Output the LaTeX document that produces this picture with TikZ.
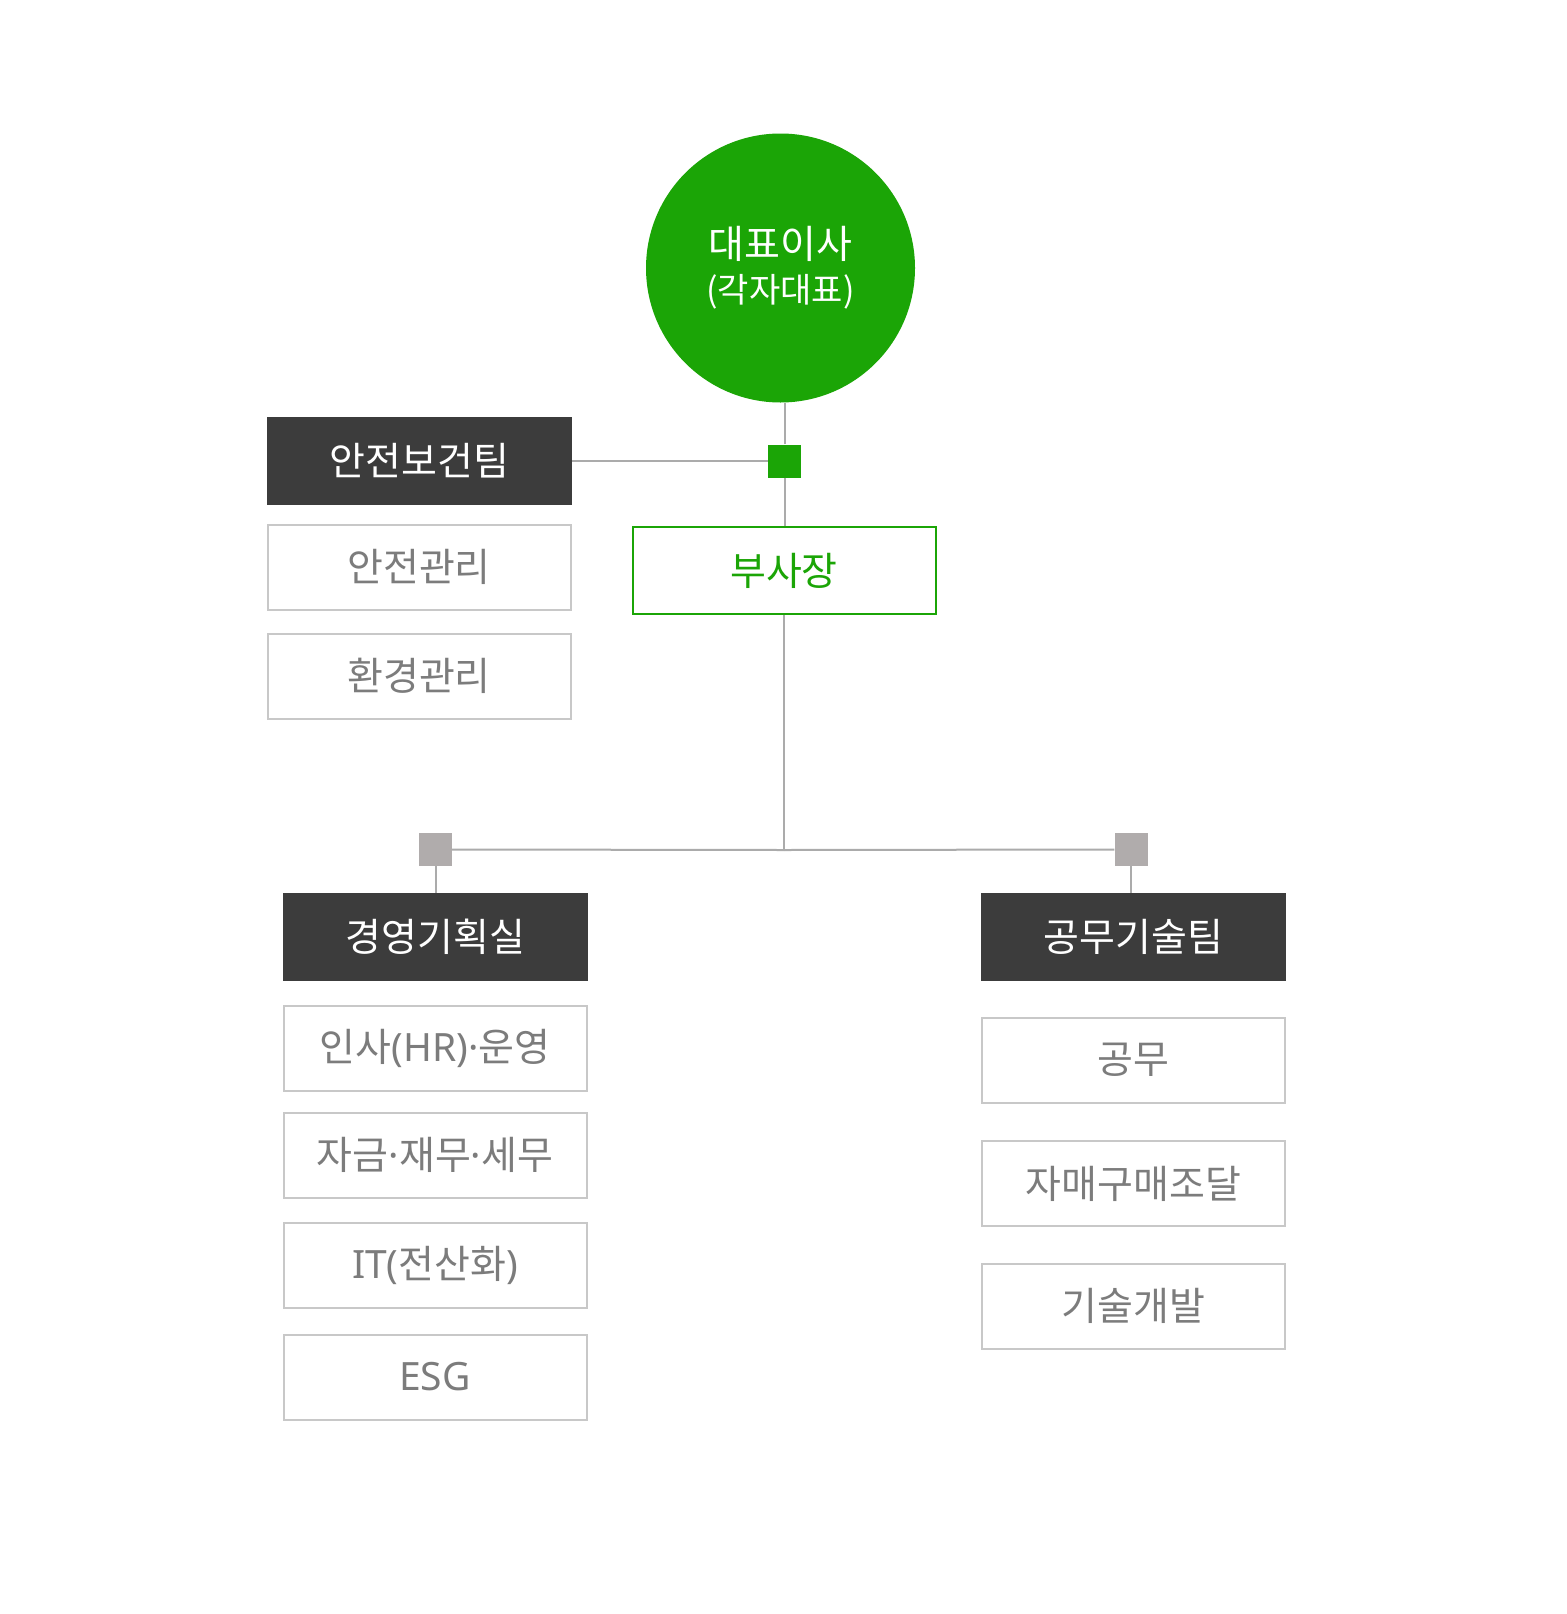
\documentclass[tikz,border=0pt]{standalone}
\usepackage{fontspec}
\setmainfont{Noto Sans CJK KR}
\newfontfamily\latinfont{Noto Sans}
\newcommand{\mdot}{{\latinfont ·}}
\definecolor{cgreen}{HTML}{1BA506}
\definecolor{cdark}{HTML}{3C3C3C}
\definecolor{csq}{HTML}{B0ACAC}
\definecolor{cline}{HTML}{ABABAB}
\definecolor{cborder}{HTML}{C8C8C8}
\definecolor{ctext}{HTML}{7C7C7C}
\begin{document}
\begin{tikzpicture}[x=1pt,y=-1pt,
  conn/.style={draw=cline,line width=2pt},
  ceostyle/.style={circle,fill=cgreen,text=white,minimum size=269pt,inner sep=0pt,align=center,font=\fontsize{39}{46}\selectfont},
  greensq/.style={rectangle,fill=cgreen,minimum size=33pt,inner sep=0pt},
  graysq/.style={rectangle,fill=csq,minimum size=33pt,inner sep=0pt},
  teambox/.style={rectangle,fill=cdark,text=white,minimum width=305pt,minimum height=88pt,inner sep=0pt,font=\fontsize{39}{44}\selectfont},
  unitbox/.style={rectangle,draw=cborder,line width=2pt,fill=white,text=ctext,minimum width=303pt,minimum height=85pt,inner sep=0pt,font=\fontsize{39}{44}\selectfont},
  vpbox/.style={rectangle,draw=cgreen,line width=2pt,fill=white,text=cgreen,minimum width=303pt,minimum height=87pt,inner sep=0pt,font=\fontsize{39}{44}\selectfont}
]
\useasboundingbox[fill=white] (0,0) rectangle (1566,1614);

\node[ceostyle] (ceo) at (780.5,268) {대표이사\\[-2pt]{\fontsize{34}{40}\selectfont (각자대표)}};
\node[greensq] (jct) at (784.5,461) {};
\node[teambox] (safety) at (419.5,461) {안전보건팀};
\node[unitbox] (s1) at (419,567) {안전관리};
\node[unitbox] (s2) at (419,676) {환경관리};
\node[vpbox] (vp) at (784,570.5) {부사장};

\coordinate (hub) at (784,850);
\node[graysq] (lsq) at (435.5,849.5) {};
\node[graysq] (rsq) at (1131,849.5) {};

\node[teambox] (mgmt) at (435.5,937) {경영기획실};
\node[unitbox] (m1) at (435,1048.5) {인사{\latinfont (HR)}\mdot 운영};
\node[unitbox] (m2) at (435,1155) {자금\mdot 재무\mdot 세무};
\node[unitbox] (m3) at (435,1265) {{\latinfont IT(}전산화{\latinfont )}};
\node[unitbox] (m4) at (435,1377) {{\latinfont ESG}};

\node[teambox] (eng) at (1133.5,937) {공무기술팀};
\node[unitbox] (e1) at (1133.5,1060) {공무};
\node[unitbox] (e2) at (1133.5,1183.5) {자매구매조달};
\node[unitbox] (e3) at (1133.5,1306) {기술개발};

\draw[conn] (jct.north) -- (jct.north |- ceo.south);
\draw[conn] (jct.south) -- (jct.south |- vp.north);
\draw[conn] (safety.east) -- (jct.west);
\draw[conn] (vp.south) -- (hub);
\draw[conn] (hub) -- (lsq.east);
\draw[conn] (hub) -- (rsq.west);
\draw[conn] (lsq.south) -- (lsq.south |- mgmt.north);
\draw[conn] (rsq.south) -- (rsq.south |- eng.north);
\end{tikzpicture}
\end{document}
